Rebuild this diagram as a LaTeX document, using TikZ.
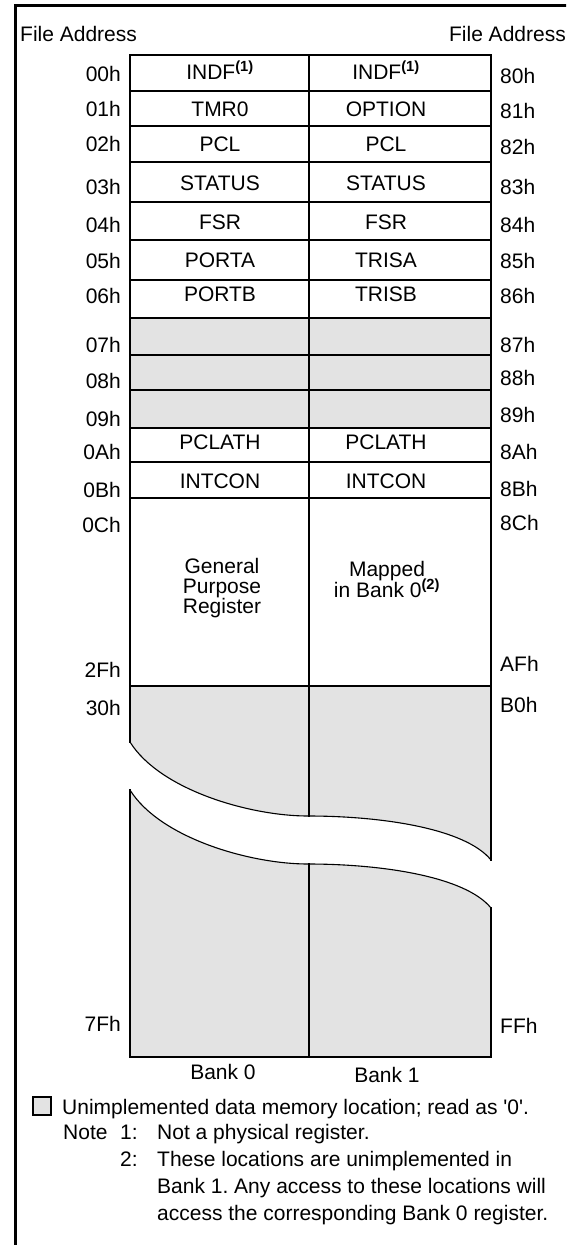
\documentclass[tikz,border=0pt]{standalone}
\usepackage{fontspec}
\setmainfont{Liberation Sans}
\begin{document}
\frenchspacing
\begin{tikzpicture}[x=1pt,y=-1pt,
  txt/.style={font=\fontsize{21}{21}\selectfont, inner sep=0pt, anchor=base},
  laddr/.style={txt, anchor=base east},
  raddr/.style={txt, anchor=base west},
  note/.style={txt, anchor=base west},
  grid/.style={line width=1.4pt, line cap=rect},
  brk/.style={line width=1.1pt},
  unimp/.style={fill=black!11}]
\useasboundingbox (0,0) rectangle (566,1245);
\clip (0,0) rectangle (566,1245);
% outer frame
\draw[line width=3pt] (15.5,1400) -- (15.5,5.5) -- (700,5.5);
% gray fills
\fill[unimp] (130,318) rectangle (491,428);
\fill[unimp] (130,686) -- (491,686) -- (491,860)
  .. controls (465,828) and (380,816) .. (308,816)
  .. controls (250,816) and (160,790) .. (130,742) -- cycle;
\fill[unimp] (130,790) .. controls (160,838) and (250,864) .. (308,864)
  .. controls (380,864) and (465,876) .. (491,908) -- (491,1057) -- (130,1057) -- cycle;
% horizontal grid lines
\foreach \yy in {55,91,126,162,202,240,280,318,355,390,428,462,498,686}
  \draw[grid] (130,\yy) -- (491,\yy);
\draw[line width=2pt] (130,1057) -- (491,1057);
% vertical grid lines
\draw[grid] (130,55) -- (130,742);
\draw[grid] (309,55) -- (309,816);
\draw[grid] (491,55) -- (491,860);
\draw[grid] (130,790) -- (130,1057);
\draw[grid] (309,864) -- (309,1057);
\draw[grid] (491,908) -- (491,1057);
% break curves
\draw[brk] (130,742) .. controls (160,790) and (250,816) .. (308,816)
  .. controls (380,816) and (465,828) .. (491,860);
\draw[brk] (130,790) .. controls (160,838) and (250,864) .. (308,864)
  .. controls (380,864) and (465,876) .. (491,908);
% headers
\node[txt, anchor=base west] (hl) at (20,41) {File Address};
\node[txt, anchor=base east] (hr) at (566,41) {File Address};
% left addresses
\node[laddr] (a00) at (121,81) {00h};
\node[laddr] (a01) at (121,116) {01h};
\node[laddr] (a02) at (121,151) {02h};
\node[laddr] (a03) at (121,194) {03h};
\node[laddr] (a04) at (121,232) {04h};
\node[laddr] (a05) at (121,268) {05h};
\node[laddr] (a06) at (121,303) {06h};
\node[laddr] (a07) at (121,352) {07h};
\node[laddr] (a08) at (121,388) {08h};
\node[laddr] (a09) at (121,426) {09h};
\node[laddr] (a0A) at (121,459) {0Ah};
\node[laddr] (a0B) at (121,497) {0Bh};
\node[laddr] (a0C) at (121,532) {0Ch};
\node[laddr] (a2F) at (121,677) {2Fh};
\node[laddr] (a30) at (121,715) {30h};
\node[laddr] (a7F) at (121,1031) {7Fh};
% right addresses
\node[raddr] (a80) at (500,83) {80h};
\node[raddr] (a81) at (500,118) {81h};
\node[raddr] (a82) at (500,154) {82h};
\node[raddr] (a83) at (500,194) {83h};
\node[raddr] (a84) at (500,232) {84h};
\node[raddr] (a85) at (500,268) {85h};
\node[raddr] (a86) at (500,303) {86h};
\node[raddr] (a87) at (500,352) {87h};
\node[raddr] (a88) at (500,385) {88h};
\node[raddr] (a89) at (500,422) {89h};
\node[raddr] (a8A) at (500,459) {8Ah};
\node[raddr] (a8B) at (500,496) {8Bh};
\node[raddr] (a8C) at (500,530) {8Ch};
\node[raddr] (aAF) at (500,671) {AFh};
\node[raddr] (aB0) at (500,712) {B0h};
\node[raddr] (aFF) at (500,1033) {FFh};
% bank 0 registers
\node[txt] (b0r0) at (220,79) {INDF\textsuperscript{\bfseries(1)}};
\node[txt] (b0r1) at (220,116) {TMR0};
\node[txt] (b0r2) at (220,151) {PCL};
\node[txt] (b0r3) at (220,190) {STATUS};
\node[txt] (b0r4) at (220,229) {FSR};
\node[txt] (b0r5) at (220,267) {PORTA};
\node[txt] (b0r6) at (220,301) {PORTB};
\node[txt] (b0rA) at (220,449) {PCLATH};
\node[txt] (b0rB) at (220,488) {INTCON};
% bank 1 registers
\node[txt] (b1r0) at (386,79) {INDF\textsuperscript{\bfseries(1)}};
\node[txt] (b1r1) at (386,116) {OPTION};
\node[txt] (b1r2) at (386,151) {PCL};
\node[txt] (b1r3) at (386,190) {STATUS};
\node[txt] (b1r4) at (386,229) {FSR};
\node[txt] (b1r5) at (386,267) {TRISA};
\node[txt] (b1r6) at (386,301) {TRISB};
\node[txt] (b1rA) at (386,449) {PCLATH};
\node[txt] (b1rB) at (386,488) {INTCON};
% general purpose
\node[txt] (gp1) at (222,573) {General};
\node[txt] (gp2) at (222,593) {Purpose};
\node[txt] (gp3) at (222,613) {Register};
\node[txt] (mp1) at (387,576) {Mapped};
\node[txt] (mp2) at (387,597) {in Bank 0\textsuperscript{\bfseries(2)}};
% bank labels
\node[txt] (bk0) at (223,1079) {Bank 0};
\node[txt] (bk1) at (387,1082) {Bank 1};
% legend
\draw[line width=1.2pt, unimp] (33,1097) rectangle (51,1115);
\node[note] (lg) at (62,1114) {Unimplemented data memory location; read as \textquotesingle 0\textquotesingle.};
\node[note] (n0) at (63,1139) {Note};
\node[note] (n1) at (120,1139) {1:};
\node[note] (n1t) at (157,1139) {Not a physical register.};
\node[note] (n2) at (120,1166) {2:};
\node[note] (n2a) at (157,1166) {These locations are unimplemented in};
\node[note] (n2b) at (157,1193) {Bank 1. Any access to these locations will};
\node[note] (n2c) at (157,1220) {access the corresponding Bank 0 register.};
\end{tikzpicture}
\end{document}
